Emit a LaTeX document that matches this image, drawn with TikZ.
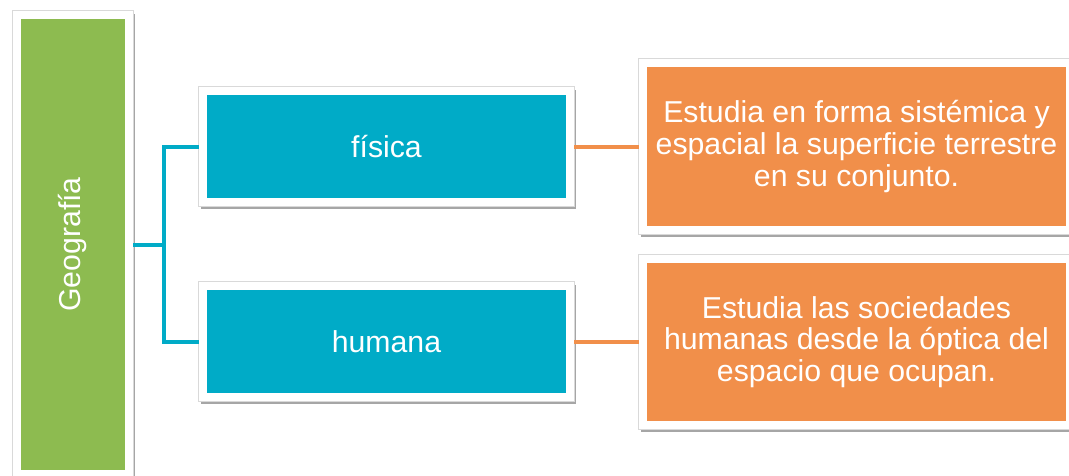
\documentclass[tikz,border=0pt]{standalone}
\usepackage{fontspec}
\setmainfont{Liberation Sans}
\usetikzlibrary{calc}
\definecolor{geogreen}{RGB}{141,187,80}
\definecolor{geocyan}{RGB}{0,171,199}
\definecolor{geoorange}{RGB}{241,143,74}
\tikzset{
	framed/.style={draw=white, line width=0.2cm, text=white, align=center,
		font=\fontsize{21.5}{22.5}\selectfont,
		preaction={draw=black!35, line width=0.2cm, transform canvas={shift={(0.05cm,-0.07cm)}}},
		preaction={draw=black!15, line width=0.23cm}},
	cline/.style={line width=0.1cm, color=geocyan},
	oline/.style={line width=0.1cm, color=geoorange}
}

\begin{document}
\begin{tikzpicture}[x=0.025cm, y=-0.025cm]
			%%%%% START %%%%%
			
			\useasboundingbox[fill=white] (0, 0) rectangle (1069, 475);
			\clip (0, 0) rectangle (1069, 475);
			
			\node[framed, fill=geogreen, rotate=90, minimum width=11.475cm, minimum height=2.8cm] (geo) at (73, 244.5) {Geograf\'ia};
			
			\node[framed, fill=geocyan, minimum width=9.175cm, minimum height=2.775cm] (fisica) at (386.5, 146.5) {f\'isica};
			\node[framed, fill=geocyan, minimum width=9.175cm, minimum height=2.775cm] (humana) at (386.5, 341.5) {humana};
			
			\node[framed, fill=geoorange, minimum width=10.675cm, minimum height=4.175cm] (fisdef) at (856.5, 146.5) {Estudia en forma sist\'emica y\\espacial la superficie terrestre\\en su conjunto.};
			\node[framed, fill=geoorange, minimum width=10.675cm, minimum height=4.15cm] (humdef) at (856.5, 342) {Estudia las sociedades\\humanas desde la \'optica del\\espacio que ocupan.};
			
			\coordinate (fork) at ([xshift=0.775cm]geo.south);
			\draw[cline] (geo.south) -- (fork);
			\draw[cline] (fisica.west) -| (fork) |- (humana.west);
			
			\draw[oline] (fisica.east) -- (fisica.east -| fisdef.west);
			\draw[oline] (humana.east) -- (humana.east -| humdef.west);
			
			%%%%% END %%%%%
		\end{tikzpicture}
\end{document}
